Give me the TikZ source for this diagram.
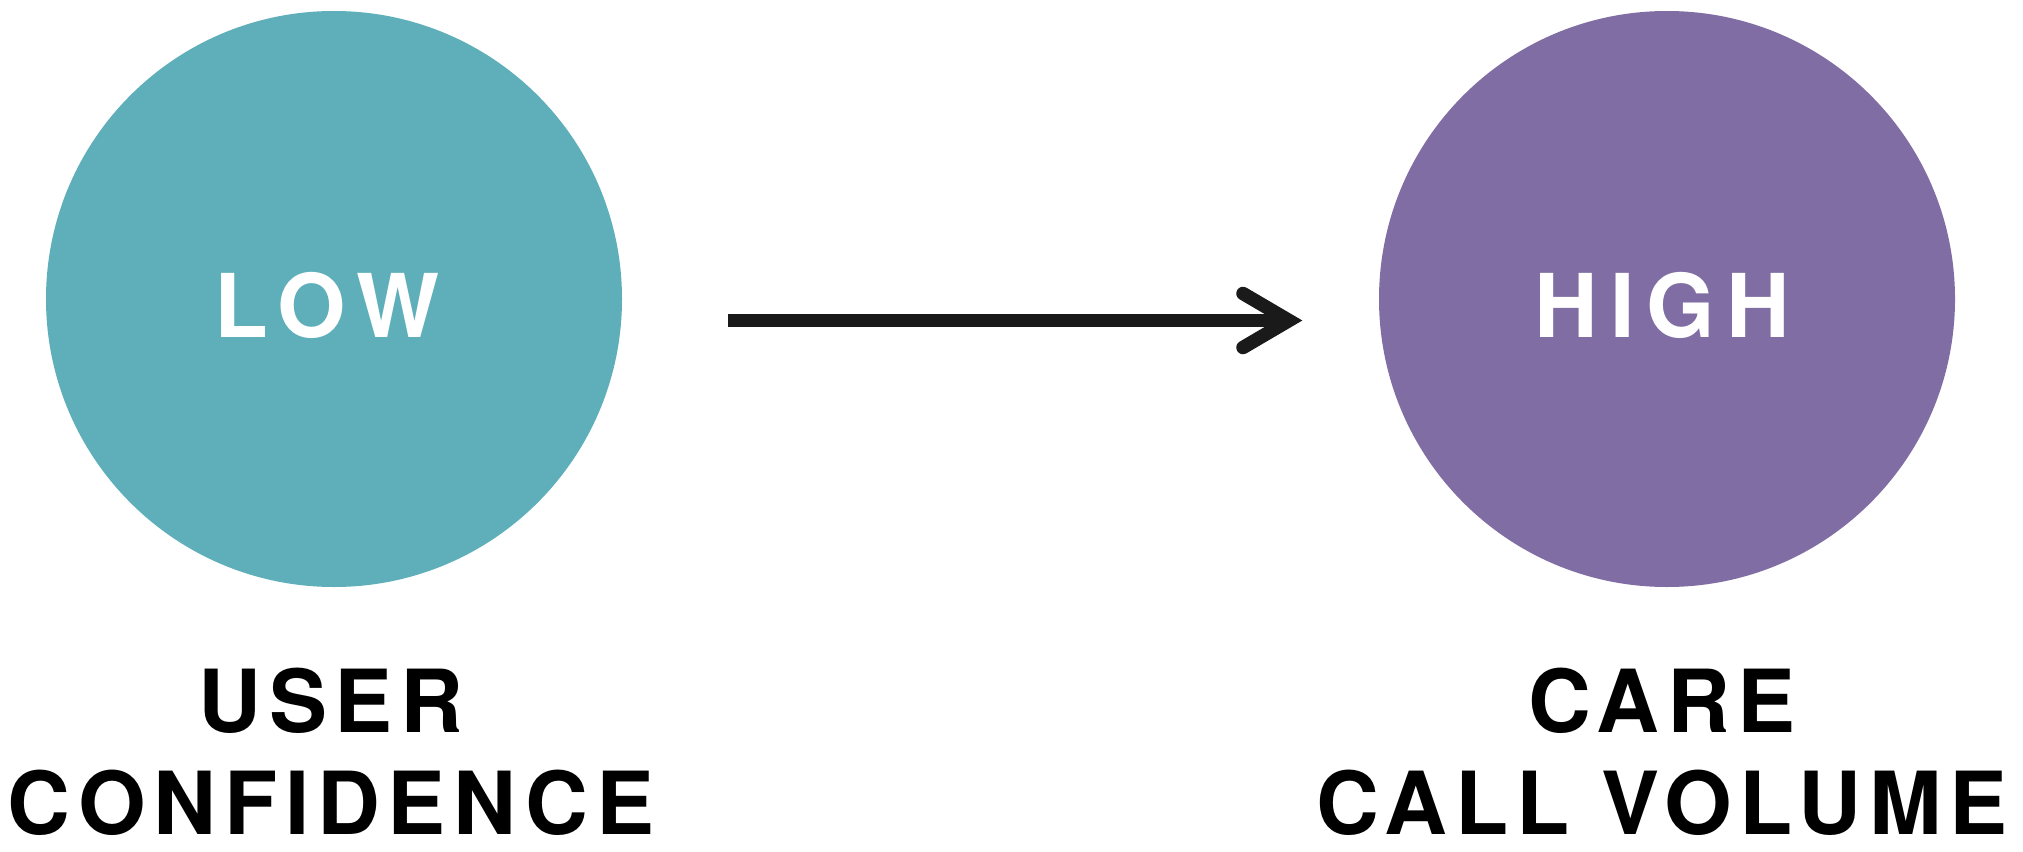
\documentclass[tikz,border=0pt]{standalone}
\usepackage{fontspec}
\setmainfont{TeX Gyre Heros}
% spaced bold capitals: wider tracking inside the discs, a little less below
\newfontfamily\discfont{TeX Gyre Heros}[LetterSpace=13.5]
\newfontfamily\captionfont{TeX Gyre Heros}[LetterSpace=9]
\definecolor{lowteal}{RGB}{94,175,185}
\definecolor{highpurple}{RGB}{128,109,163}
\definecolor{arrowink}{RGB}{26,26,26}

\begin{document}
\begin{tikzpicture}[x=1pt,y=-1pt,
  disc/.style={circle, minimum size=576pt, inner sep=0pt},
  disctext/.style={font=\discfont\bfseries\fontsize{88}{88}\selectfont,
    text=white, inner sep=0pt, anchor=base},
  captiontext/.style={font=\captionfont\bfseries\fontsize{87}{102}\selectfont,
    align=center, inner sep=0pt, anchor=base},
  shaft/.style={draw=arrowink, line width=13.5pt},
  chevron/.style={draw=arrowink, line width=13.5pt, line cap=round, line join=miter}]

\useasboundingbox[fill=white] (0,0) rectangle (2023,851);

% the two states
\node[disc, fill=lowteal]    (low)  at (334,299)  {};
\node[disc, fill=highpurple] (high) at (1667,299) {};
\node[disctext] (lowword)  at (327,337)  {LOW};
\node[disctext] (highword) at (1662.5,337) {HIGH};

% captions under each disc (anchored on the last line's baseline)
\node[captiontext] (usercap) at (331,834)  {USER\\CONFIDENCE};
\node[captiontext] (carecap) at (1662,834) {CARE\\CALL VOLUME};

% arrow between the discs
\coordinate (tail) at (728,320.5);
\coordinate (head) at (1289,320.5);
\draw[shaft] (tail) -- (head);
\draw[chevron] ([shift={(-46,-27)}]head) -- (head) -- ([shift={(-46,27)}]head);
\end{tikzpicture}
\end{document}
